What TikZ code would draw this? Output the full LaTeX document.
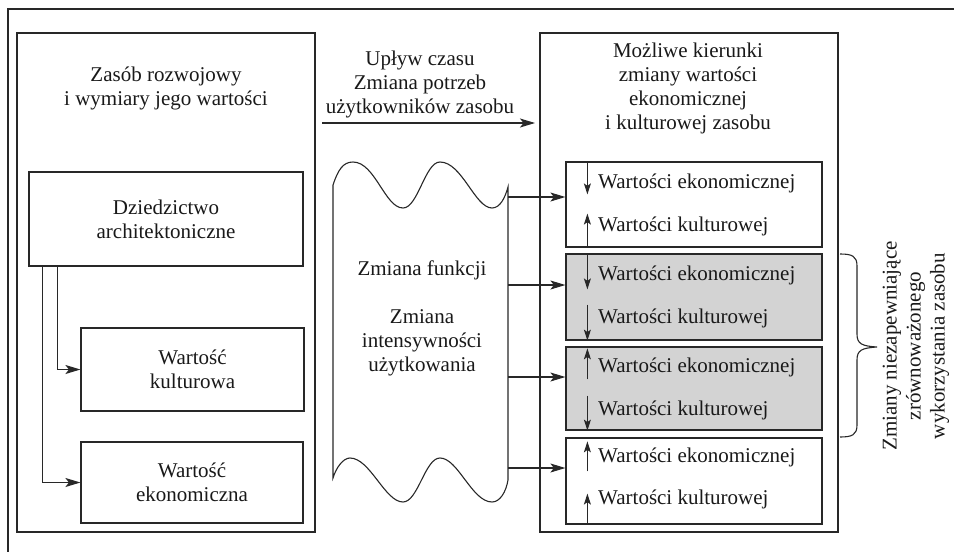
\documentclass[tikz,border=0pt]{standalone}
\usepackage{fontspec}
\setmainfont{Liberation Serif}
\usetikzlibrary{arrows.meta}
\definecolor{lc}{RGB}{40,40,40}
\definecolor{fillg}{RGB}{211,211,211}
\begin{document}
\begin{tikzpicture}[x=1pt,y=-1pt,
  every node/.style={font=\fontsize{21}{24}\selectfont, text=black!90},
  box/.style={draw=lc, line width=1.2pt, fill=white, inner sep=0pt, align=center},
  gbox/.style={box, fill=fillg},
  conn/.style={draw=lc, line width=1.1pt, -{Stealth[length=15pt,width=9pt,inset=3.5pt]}},
  small/.style={draw=lc, line width=1pt, -{Stealth[length=11pt,width=7pt,inset=2.5pt]}},
  lbl/.style={anchor=west, inner sep=0pt},
  frame/.style={draw=lc, line width=1.1pt}
]
\useasboundingbox (0,0) rectangle (954,552);
% outer frame fragment
\draw[frame] (8,552) -- (8,9) -- (954,9);

% left part
\node[box, minimum width=298pt, minimum height=499pt] (lb) at (166,282.5) {};
\node[align=center] (lbt) at (166,88.5) {Zasób rozwojowy\\i wymiary jego wartości};
\node[box, minimum width=274pt, minimum height=94pt] (dz) at (166,219) {Dziedzictwo\\architektoniczne};
\node[box, minimum width=223pt, minimum height=83pt] (wk) at (192.5,369.5) {Wartość\\kulturowa};
\node[box, minimum width=222pt, minimum height=81pt] (we) at (192,482.5) {Wartość\\ekonomiczna};
\draw[conn] ([xshift=29pt]dz.south west) |- (wk.west);
\draw[conn] ([xshift=14pt]dz.south west) |- (we.west);

% right part
\node[box, minimum width=298pt, minimum height=499pt] (rb) at (689,282.5) {};
\node[align=center] (rbt) at (688,88.5) {Możliwe kierunki\\zmiany wartości\\ekonomicznej\\i kulturowej zasobu};

% top arrow
\node[align=center] (tt) at (420,84) {Upływ czasu\\Zmiana potrzeb\\użytkowników zasobu};
\coordinate (ta) at (322,123);
\coordinate (tb) at (535,123);
\draw[conn] (ta) -- (tb);

% inner boxes
\node[box,  minimum width=256pt, minimum height=85pt] (b1) at (694,204.5) {};
\node[gbox, minimum width=256pt, minimum height=86pt] (b2) at (694,297) {};
\node[gbox, minimum width=256pt, minimum height=83pt] (b3) at (694,388.5) {};
\node[box,  minimum width=256pt, minimum height=86pt] (b4) at (694,481) {};

\node[lbl] (t1a) at (598,183) {Wartości ekonomicznej};
\node[lbl] (t1b) at (598,226) {Wartości kulturowej};
\node[lbl] (t2a) at (598,275) {Wartości ekonomicznej};
\node[lbl] (t2b) at (598,318) {Wartości kulturowej};
\node[lbl] (t3a) at (598,367) {Wartości ekonomicznej};
\node[lbl] (t3b) at (598,410) {Wartości kulturowej};
\node[lbl] (t4a) at (598,457) {Wartości ekonomicznej};
\node[lbl] (t4b) at (598,499) {Wartości kulturowej};

% small arrows
\draw[small] ([xshift=22pt]b1.north west) -- ([xshift=22pt,yshift=-33pt]b1.north west);
\draw[small] ([xshift=22pt]b1.south west) -- ([xshift=22pt,yshift=34pt]b1.south west);
\draw[small] ([xshift=22pt]b2.north west) -- ([xshift=22pt,yshift=-36pt]b2.north west);
\draw[small] ([xshift=22pt,yshift=36pt]b2.south west) -- ([xshift=22pt]b2.south west);
\draw[small] ([xshift=22pt,yshift=-33pt]b3.north west) -- ([xshift=22pt,yshift=-2pt]b3.north west);
\draw[small] ([xshift=22pt,yshift=35pt]b3.south west) -- ([xshift=22pt]b3.south west);
\draw[small] ([xshift=22pt,yshift=-34pt]b4.north west) -- ([xshift=22pt,yshift=-4pt]b4.north west);
\draw[small] ([xshift=22pt]b4.south west) -- ([xshift=22pt,yshift=31pt]b4.south west);

% wavy shape
\draw[draw=lc, line width=1.1pt, fill=white]
  (333,478) -- (333,185)
  .. controls (338,170) and (343,162) .. (353,162)
  .. controls (375,162) and (385,208) .. (403,208)
  .. controls (418,208) and (425,162) .. (440,162)
  .. controls (462,162) and (475,208) .. (492,208)
  .. controls (500,208) and (505,198) .. (508,187)
  -- (508,480)
  .. controls (506,492) and (500,502) .. (492,502)
  .. controls (472,502) and (458,458) .. (440,458)
  .. controls (425,458) and (418,502) .. (403,502)
  .. controls (385,502) and (370,458) .. (350,458)
  .. controls (343,458) and (336,468) .. (333,478) -- cycle;
\node[align=center] (wt) at (422,318) {Zmiana funkcji\\[24pt]Zmiana\\intensywności\\użytkowania};

\coordinate (w1) at (508,197);
\coordinate (w2) at (508,285);
\coordinate (w3) at (508,377);
\coordinate (w4) at (508,468);
\draw[conn] (w1) -- (w1 -| b1.west);
\draw[conn] (w2) -- (w2 -| b2.west);
\draw[conn] (w3) -- (w3 -| b3.west);
\draw[conn] (w4) -- (w4 -| b4.west);

% brace
\draw[draw=lc, line width=1.1pt]
  (840,254) .. controls (852,254) and (857,256) .. (857,266) -- (857,334)
  .. controls (857,344) and (862,346) .. (877,347)
  .. controls (862,348) and (857,350) .. (857,360) -- (857,425)
  .. controls (857,435) and (852,437) .. (840,437);
\node[align=center, rotate=90] (bt) at (916,346) {Zmiany niezapewniające\\zrównoważonego\\wykorzystania zasobu};
\end{tikzpicture}
\end{document}
